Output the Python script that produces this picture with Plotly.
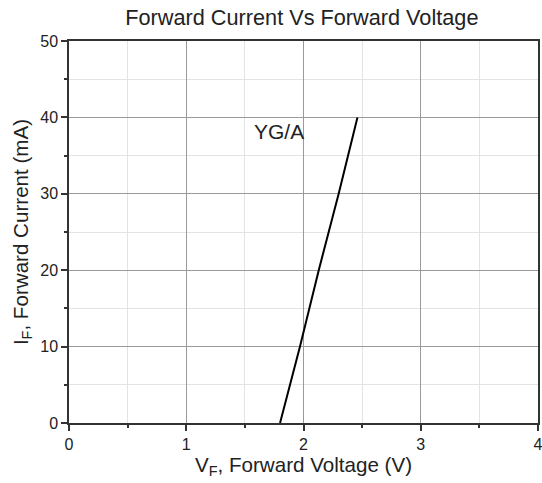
import plotly.graph_objects as go

vf = [1.80, 1.97, 2.13, 2.30, 2.46]
i_f = [0, 10, 20, 30, 40]
x_ticks = [0, 1, 2, 3, 4]
y_ticks = [0, 10, 20, 30, 40, 50]
label = "YG/A"

fig = go.Figure()
fig.add_trace(go.Scatter(x=vf, y=i_f, mode="lines",
                         line=dict(color="black", width=2), showlegend=False))

fig.add_annotation(x=1.79, y=38.1, text=label, showarrow=False,
                   font=dict(size=21, color="#222"))

axis_common = dict(
    showline=True, linecolor="#333", linewidth=1.5, mirror=True,
    ticks="outside", ticklen=6, tickwidth=1.5, tickcolor="#333",
    showgrid=True, gridcolor="#9a9a9a", gridwidth=1,
    zeroline=False, automargin=False, ticklabeloverflow="allow",
    tickfont=dict(size=16, color="#222"),
)

fig.update_xaxes(range=[0, 4], tickvals=x_ticks, **axis_common,
                 minor=dict(dtick=0.5, ticks="outside", ticklen=3, tickcolor="#333",
                            showgrid=True, gridcolor="#e3e3e3", gridwidth=1),
                 title=dict(text="V<sub>F</sub>, Forward Voltage (V)",
                            font=dict(size=20.6, color="#222"), standoff=4))
fig.update_yaxes(range=[0, 50], tickvals=y_ticks, **axis_common,
                 minor=dict(dtick=5, ticks="outside", ticklen=3, tickcolor="#333",
                            showgrid=True, gridcolor="#e3e3e3", gridwidth=1),
                 title=dict(text="I<sub>F</sub>, Forward Current (mA)",
                            font=dict(size=20.6, color="#222"), standoff=6))

fig.update_layout(
    width=542, height=483,
    margin=dict(l=69, r=4, t=41, b=60, autoexpand=False),
    plot_bgcolor="white", paper_bgcolor="white",
    font=dict(family="Liberation Sans, Arial, sans-serif"),
    title=dict(text="Forward Current Vs Forward Voltage", x=0.557, xanchor="center",
               y=0.965, yanchor="middle", automargin=False,
               font=dict(size=21.7, color="#222")),
)

fig.write_html("out.html", config={"displayModeBar": False},
               post_script="document.body.style.margin='0';")
